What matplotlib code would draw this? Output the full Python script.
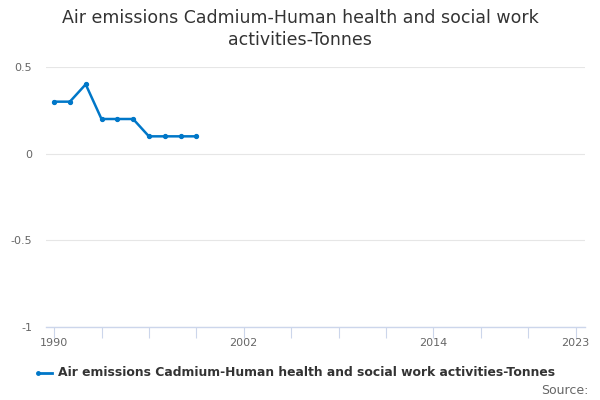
import matplotlib
matplotlib.use("Agg")
import matplotlib.pyplot as plt

# Data
years = [1990, 1991, 1992, 1993, 1994, 1995, 1996, 1997, 1998, 1999]
tonnes = [0.3, 0.3, 0.4, 0.2, 0.2, 0.2, 0.1, 0.1, 0.1, 0.1]
series_name = "Air emissions Cadmium-Human health and social work activities-Tonnes"
title = "Air emissions Cadmium-Human health and social work\nactivities-Tonnes"
y_ticks = [-1, -0.5, 0, 0.5]
y_tick_labels = ["-1", "-0.5", "0", "0.5"]
x_ticks = list(range(1990, 2024, 3))
x_label_years = [1990, 2002, 2014, 2023]

line_color = "#0077c8"
axis_color = "#ccd6eb"
grid_color = "#e6e6e6"

fig = plt.figure(figsize=(6, 4), dpi=100)
ax = fig.add_axes([0.077, 0.1825, 0.898, 0.65])

ax.plot(years, tonnes, color=line_color, linewidth=1.8, marker="o", markersize=2.8)

ax.set_xlim(1989.5, 2023.6)
ax.set_ylim(-1, 0.5)

ax.set_yticks(y_ticks)
ax.set_yticklabels(y_tick_labels)
ax.yaxis.grid(True, color=grid_color, linewidth=0.8)
ax.set_axisbelow(True)

# ticks every 3 years, labels only at a few of them
ax.set_xticks(x_ticks)
ax.set_xticklabels([str(y) if y in x_label_years else "" for y in x_ticks])
ax.tick_params(axis="x", length=8, color=axis_color, width=0.8, labelsize=8,
               labelcolor="#666666", pad=0)
ax.tick_params(axis="y", length=0, labelsize=8, labelcolor="#666666", pad=10)

for side in ["top", "right", "left"]:
    ax.spines[side].set_visible(False)
ax.spines["bottom"].set_color(axis_color)
ax.spines["bottom"].set_linewidth(1)

fig.text(0.5, 0.928, title, ha="center", va="center", fontsize=12.5,
         color="#333333", linespacing=1.3)

# legend drawn as a line sample plus bold text
fig.lines.append(plt.Line2D([38 / 600, 52 / 600], [1 - 373 / 400] * 2,
                            transform=fig.transFigure, color=line_color,
                            linewidth=2, marker="o", markersize=2.5,
                            markevery=[0]))
fig.text(58 / 600, 1 - 373 / 400, series_name, ha="left", va="center",
         fontsize=8.9, fontweight="bold", color="#333333")
fig.text(589 / 600, 1 - 391 / 400, "Source:", ha="right", va="center",
         fontsize=9, color="#666666")

fig.savefig("out.png", dpi=100)
